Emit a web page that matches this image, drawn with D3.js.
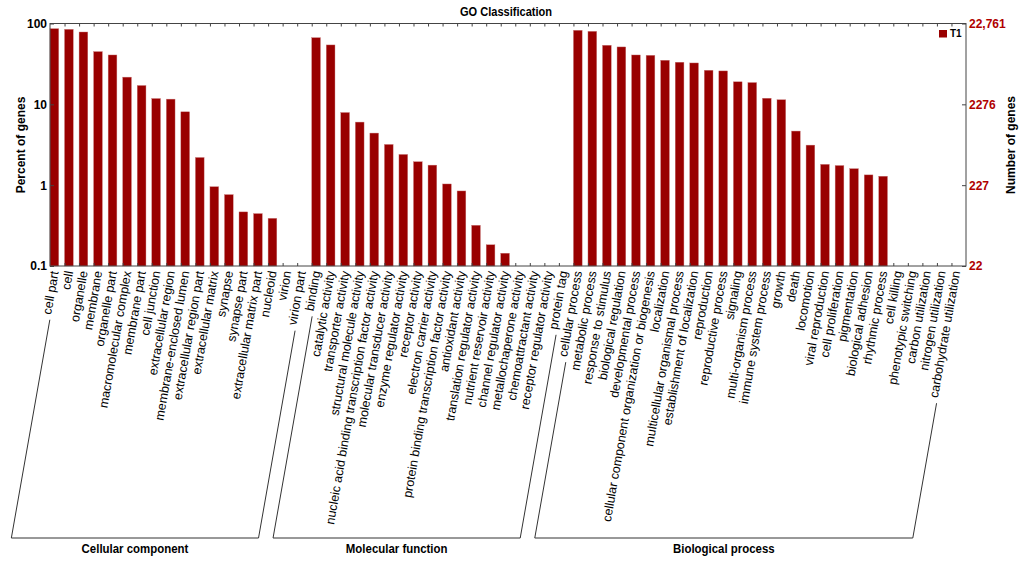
<!DOCTYPE html>
<html>
<head>
<meta charset="utf-8">
<script src="https://cdn.jsdelivr.net/npm/d3@7.9.0/dist/d3.min.js"></script>
<style>
  body { margin: 0; background: #fff; }
  svg { display: block; font-family: "Liberation Sans", Arial, sans-serif; }
  .tick text { font-weight: bold; }
</style>
</head>
<body>
<svg width="1024" height="563"></svg>
<script>
// GO terms per category, values are percent of genes (0 = no bar)
const ccTerms = ['cell part', 'cell', 'organelle', 'membrane', 'organelle part', 'macromolecular complex',
  'membrane part', 'cell junction', 'extracellular region', 'membrane-enclosed lumen',
  'extracellular region part', 'extracellular matrix', 'synapse', 'synapse part',
  'extracellular matrix part', 'nucleoid', 'virion', 'virion part'];
const ccValues = [86.3, 84.7, 78.5, 44.9, 40.8, 21.7, 17.1, 11.8, 11.6, 8.08, 2.2, 0.957, 0.764, 0.467, 0.445, 0.389, 0, 0];

const mfTerms = ['binding', 'catalytic activity', 'transporter activity', 'structural molecule activity',
  'nucleic acid binding transcription factor activity', 'molecular transducer activity',
  'enzyme regulator activity', 'receptor activity', 'electron carrier activity',
  'protein binding transcription factor activity', 'antioxidant activity', 'translation regulator activity',
  'nutrient reservoir activity', 'channel regulator activity', 'metallochaperone activity',
  'chemoattractant activity', 'receptor regulator activity', 'protein tag'];
const mfValues = [66.8, 54.3, 7.92, 6.03, 4.41, 3.19, 2.4, 1.95, 1.77, 1.035, 0.848, 0.319, 0.183, 0.144, 0, 0, 0, 0];

const bpTerms = ['cellular process', 'metabolic process', 'response to stimulus', 'biological regulation',
  'developmental process', 'cellular component organization or biogenesis', 'localization',
  'multicellular organismal process', 'establishment of localization', 'reproduction',
  'reproductive process', 'signaling', 'multi-organism process', 'immune system process', 'growth',
  'death', 'locomotion', 'viral reproduction', 'cell proliferation', 'pigmentation',
  'biological adhesion', 'rhythmic process', 'cell killing', 'phenotypic switching',
  'carbon utilization', 'nitrogen utilization', 'carbohydrate utilization'];
const bpValues = [82.4, 80.0, 53.8, 51.3, 40.8, 40.4, 35.1, 33.2, 32.5, 26.4, 25.9, 19.0, 18.6, 11.9, 11.4,
  4.67, 3.13, 1.81, 1.75, 1.6, 1.34, 1.29, 0, 0, 0, 0, 0];

const groupNames = ['Cellular component', 'Molecular function', 'Biological process'];
const leftTicks = [0.1, 1, 10, 100];
const rightTickLabels = ['22', '227', '2276', '22,761'];
const totalGenes = 22761;

const groupTerms = [ccTerms, mfTerms, bpTerms];
const groupValues = [ccValues, mfValues, bpValues];

let data = [];
groupTerms.forEach((terms, g) => {
  terms.forEach((t, i) => data.push({ term: t, value: groupValues[g][i], group: g }));
});

const svg = d3.select('svg');
const plotLeft = 50, plotRight = 966, plotTop = 23.5, plotBottom = 266;
const barColor = '#990000';

const x = d3.scaleBand().domain(data.map((d) => d.term)).range([plotLeft, plotRight]);
const bw = x.bandwidth();
const y = d3.scaleLog().domain([0.1, 100]).range([plotBottom, plotTop]);
const yRight = d3.scaleLog().domain([totalGenes / 1000, totalGenes]).range([plotBottom, plotTop]);

// bars
svg.append('g')
  .selectAll('rect')
  .data(data.filter((d) => d.value > 0))
  .join('rect')
  .attr('x', (d) => x(d.term))
  .attr('width', bw * 0.6)
  .attr('y', (d) => y(d.value))
  .attr('height', (d) => plotBottom - y(d.value))
  .attr('fill', barColor)
  .attr('stroke', '#c97a7a')
  .attr('stroke-width', 0.4);

// frame and band ticks
const edge = d3.scaleLinear().domain([0, data.length]).range([plotLeft, plotRight]);
svg.append('g')
  .attr('transform', `translate(0,${plotBottom})`)
  .call(d3.axisBottom(edge).tickValues(d3.range(1, data.length)).tickSize(-3).tickSizeOuter(0).tickFormat(''));
svg.append('g')
  .attr('transform', `translate(0,${plotTop})`)
  .call(d3.axisTop(edge).tickValues(d3.range(1, data.length)).tickSize(-3).tickSizeOuter(0).tickFormat(''));

svg.append('g')
  .attr('transform', `translate(${plotLeft},0)`)
  .call(d3.axisLeft(y).tickValues(leftTicks).tickSize(-4).tickPadding(3).tickSizeOuter(0)
    .tickFormat((d) => String(d)))
  .call((g) => g.selectAll('text').attr('font-size', 12).attr('fill', '#000'));

svg.append('g')
  .attr('transform', `translate(${plotRight},0)`)
  .call(d3.axisRight(yRight).tickValues(leftTicks.map((v) => totalGenes * v / 100))
    .tickSize(-4).tickPadding(3).tickSizeOuter(0)
    .tickFormat((d, i) => rightTickLabels[i]))
  .call((g) => g.selectAll('text').attr('font-size', 12).attr('fill', '#b00000'));

svg.selectAll('.domain').remove();
svg.selectAll('.tick line').attr('stroke', '#444');
svg.append('rect')
  .attr('x', plotLeft).attr('y', plotTop)
  .attr('width', plotRight - plotLeft).attr('height', plotBottom - plotTop)
  .attr('fill', 'none').attr('stroke', '#444').attr('stroke-width', 1);

// category labels
const angle = 80 * Math.PI / 180;
const dir = [-Math.cos(angle), Math.sin(angle)];
const nrm = [Math.sin(angle), Math.cos(angle)];
const labelY = 271;

const labels = svg.append('g')
  .selectAll('text')
  .data(data)
  .join('text')
  .attr('transform', (d) => `translate(${x(d.term) + bw * 0.3},${labelY}) rotate(-80)`)
  .attr('text-anchor', 'end')
  .attr('dy', '0.35em')
  .attr('font-size', 12.5)
  .attr('fill', '#000')
  .text((d) => d.term);

const lengths = labels.nodes().map((n) => n.getComputedTextLength());

// group brackets
const bracketY = 538;
groupTerms.forEach((terms, g) => {
  const first = data.findIndex((d) => d.group === g);
  const last = first + terms.length - 1;
  const ends = [first, last].map((idx) => {
    const cx = x(data[idx].term) + bw * 0.3 + nrm[0] * 4;
    const cy = labelY + nrm[1] * 4;
    const s = lengths[idx] + 5;
    const sx = cx + dir[0] * s, sy = cy + dir[1] * s;
    const t = (bracketY - sy) / dir[1];
    return { sx, sy, ex: sx + dir[0] * t };
  });
  svg.append('path')
    .attr('d', `M${ends[0].sx},${ends[0].sy}L${ends[0].ex},${bracketY}L${ends[1].ex},${bracketY}L${ends[1].sx},${ends[1].sy}`)
    .attr('fill', 'none')
    .attr('stroke', '#333')
    .attr('stroke-width', 1);
  // condensed bold caption under the bracket
  svg.append('text')
    .attr('transform', `translate(${(ends[0].ex + ends[1].ex) / 2},${bracketY + 15}) scale(0.88,1)`)
    .attr('text-anchor', 'middle')
    .attr('font-weight', 'bold')
    .attr('font-size', 13)
    .text(groupNames[g]);
});

// titles
svg.append('text')
  .attr('transform', 'translate(506,16) scale(0.85,1)')
  .attr('text-anchor', 'middle')
  .attr('font-weight', 'bold').attr('font-size', 13)
  .text('GO Classification');

svg.append('text')
  .attr('transform', 'translate(25,145) rotate(-90)')
  .attr('text-anchor', 'middle')
  .attr('font-weight', 'bold').attr('font-size', 12)
  .text('Percent of genes');

svg.append('text')
  .attr('transform', 'translate(1014.5,145) rotate(-90)')
  .attr('text-anchor', 'middle')
  .attr('font-weight', 'bold').attr('font-size', 12)
  .text('Number of genes');

// legend
svg.append('rect')
  .attr('x', 939).attr('y', 30).attr('width', 8).attr('height', 7.5)
  .attr('fill', barColor);
svg.append('text')
  .attr('x', 950).attr('y', 37)
  .attr('font-weight', 'bold').attr('font-size', 10)
  .text('T1');
</script>
</body>
</html>
